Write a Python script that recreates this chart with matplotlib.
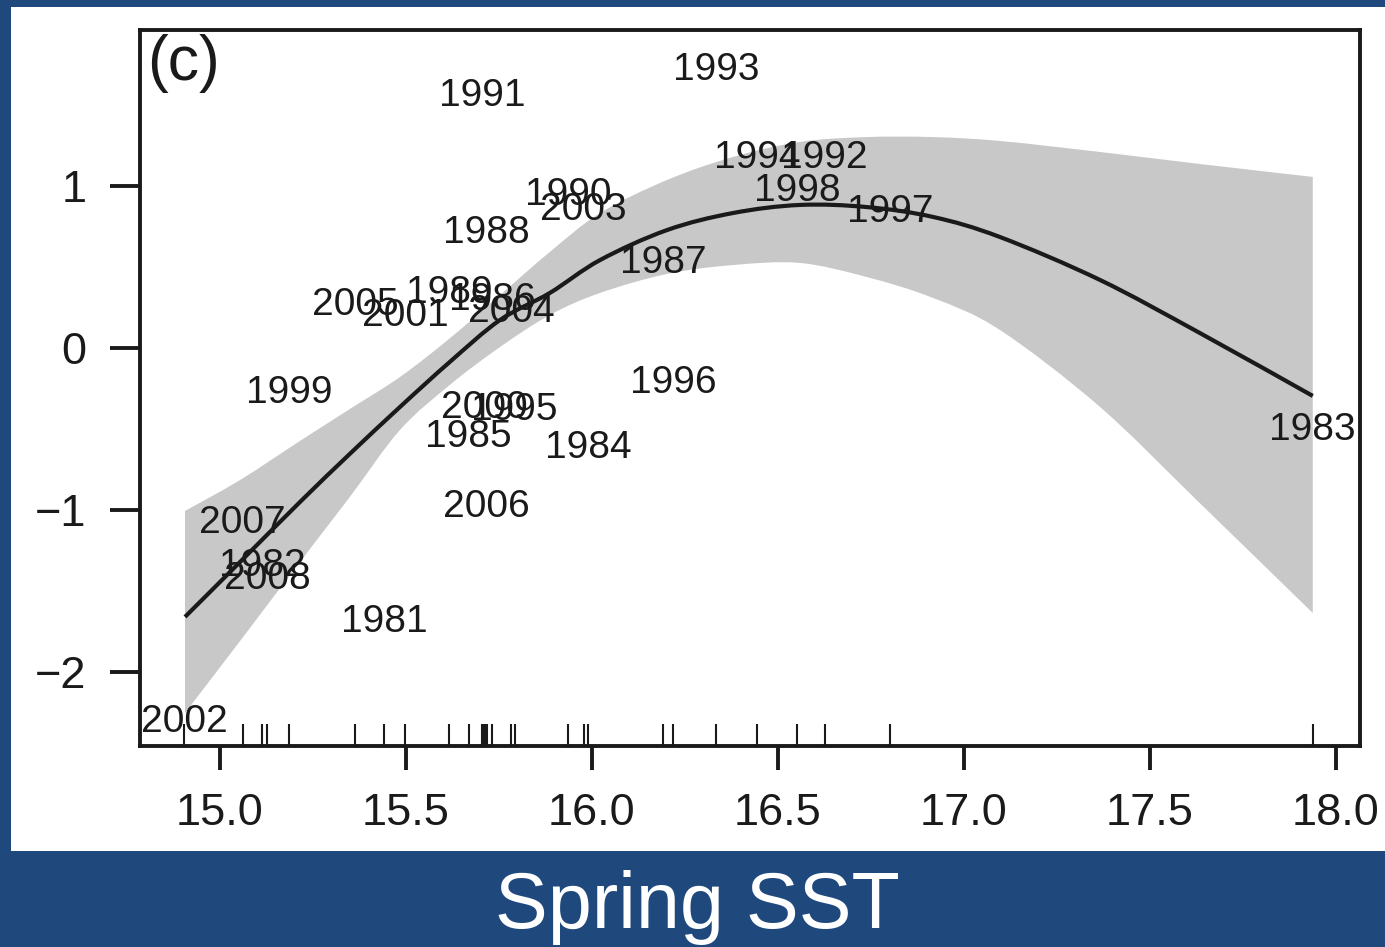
import numpy as np
import matplotlib
matplotlib.use("Agg")
import matplotlib.pyplot as plt
import matplotlib.patches as mpl_patches
import matplotlib.transforms as mtransforms
from matplotlib.path import Path

plt.rcParams['font.family'] = ['Liberation Sans', 'DejaVu Sans']

######## data: spring SST (x) and partial effect (y) per year
years = [2002, 2007, 1982, 2008, 1999, 2005, 1981, 2001, 1989, 1985,
         1991, 2000, 1988, 2006, 1986, 2004, 1995, 1990, 2003, 1984,
         1987, 1996, 1993, 1994, 1998, 1992, 1997, 1983]
sst = [14.903, 15.061, 15.114, 15.127, 15.185, 15.364, 15.442, 15.498, 15.616, 15.669,
       15.704, 15.710, 15.715, 15.717, 15.732, 15.782, 15.792, 15.937, 15.978, 15.990,
       16.191, 16.219, 16.333, 16.444, 16.551, 16.626, 16.801, 17.938]
effect = [-2.31, -1.08, -1.346, -1.426, -0.278, 0.265, -1.691, 0.198, 0.340, -0.549,
          1.556, -0.370, 0.710, -0.981, 0.296, 0.222, -0.383, 0.944, 0.852, -0.617,
          0.525, -0.216, 1.716, 1.173, 0.969, 1.173, 0.840, -0.506]

# fitted smooth and its confidence band
fit_x = [14.906, 15.054, 15.215, 15.349, 15.484, 15.618, 15.753, 15.887, 16.022,
         16.202, 16.379, 16.559, 16.739, 16.917, 17.097, 17.366, 17.634, 17.938]
fit_y = [-1.660, -1.321, -0.951, -0.654, -0.364, -0.086, 0.173, 0.340, 0.543,
         0.728, 0.833, 0.883, 0.870, 0.809, 0.685, 0.420, 0.093, -0.296]
fit_hi = [-1.006, -0.815, -0.574, -0.377, -0.179, 0.060, 0.327, 0.593, 0.833,
          1.037, 1.179, 1.272, 1.302, 1.302, 1.278, 1.210, 1.136, 1.056]
fit_lo = [-2.253, -1.809, -1.321, -0.920, -0.506, -0.228, 0.006, 0.204, 0.340,
          0.457, 0.512, 0.525, 0.438, 0.309, 0.111, -0.364, -0.957, -1.636]

xticks = [15.0, 15.5, 16.0, 16.5, 17.0, 17.5, 18.0]
yticks = [-2, -1, 0, 1]

blue = '#1f497d'
ink = '#1a1a1a'


def smooth_path(xs, ys):
    # Catmull-Rom through the points, written as cubic Bezier segments
    p = np.column_stack([xs, ys])
    n = len(p)
    verts = [p[0]]
    codes = [Path.MOVETO]
    for i in range(n - 1):
        p0 = p[max(i - 1, 0)]
        p1, p2 = p[i], p[i + 1]
        p3 = p[min(i + 2, n - 1)]
        verts += [p1 + (p2 - p0) / 6, p2 - (p3 - p1) / 6, p2]
        codes += [Path.CURVE4] * 3
    return verts, codes


fig = plt.figure(figsize=(13.85, 9.47), dpi=100, facecolor=blue)
# white panel inside the blue frame
fig.patches.append(mpl_patches.Rectangle((11/1385, 1-851/947), 1-11/1385, (851-7)/947,
                                         transform=fig.transFigure, fc='white', ec='none', zorder=-5))

ax = fig.add_axes([140/1385, 1-746/947, 1220/1385, 716/947])
ax.set_zorder(1)
ax.set_facecolor('white')

# confidence band: upper edge left to right, lower edge back again
v_hi, c_hi = smooth_path(fit_x, fit_hi)
v_lo, c_lo = smooth_path(fit_x[::-1], fit_lo[::-1])
band = Path(v_hi + [v_lo[0]] + v_lo[1:] + [v_hi[0]],
            c_hi + [Path.LINETO] + c_lo[1:] + [Path.CLOSEPOLY])
ax.add_patch(mpl_patches.PathPatch(band, fc='#c8c8c8', ec='none', zorder=1))

# fitted smooth
v_f, c_f = smooth_path(fit_x, fit_y)
ax.add_patch(mpl_patches.PathPatch(Path(v_f, c_f), fc='none', ec=ink, lw=3.0,
                                   capstyle='butt', zorder=2))

# year labels at each point
for yr, xv, yv in zip(years, sst, effect):
    ax.text(xv, yv, str(yr), ha='center', va='center', fontsize=28, color=ink, zorder=3)

# rug along the bottom
trans = mtransforms.blended_transform_factory(ax.transData, ax.transAxes)
for xv in sst:
    ax.plot([xv, xv], [0, 0.031], color=ink, lw=1.5, transform=trans, zorder=3,
            solid_capstyle='butt')

ax.set_xlim(14.785, 18.065)
ax.set_ylim(-2.457, 1.963)
ax.set_xticks(xticks)
ax.set_xticklabels([f'{v:.1f}' for v in xticks])
ax.set_yticks(yticks)
ax.set_yticklabels([str(v).replace('-', '\u2212') for v in yticks])
ax.tick_params(axis='x', length=17, width=2.8, pad=17, labelsize=32.5, colors=ink)
ax.tick_params(axis='y', length=21.5, width=2.8, pad=17, labelsize=32.5, colors=ink)
for s in ax.spines.values():
    s.set_linewidth(2.8)
    s.set_color(ink)

ax.text(0.006, 0.995, '(c)', transform=ax.transAxes, ha='left', va='top',
        fontsize=45, color=ink)

fig.text(697/1385, 1-907/947, 'Spring SST', color='white', ha='center', va='center',
         fontsize=57)

fig.savefig('out.png', dpi=100, facecolor=blue)
